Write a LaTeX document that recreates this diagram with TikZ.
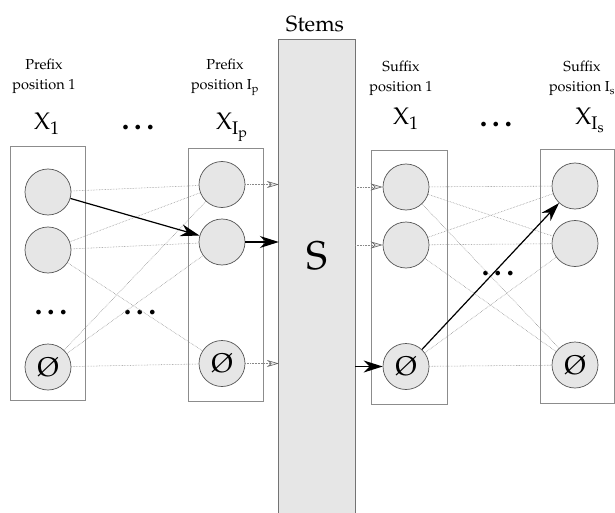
\documentclass[tikz,border=0pt]{standalone}
\usepackage[T1]{fontenc}
\usepackage{mathpazo}
\usetikzlibrary{arrows.meta}
\definecolor{cfill}{HTML}{E6E6E6}
\definecolor{cline}{HTML}{555555}
\definecolor{boxline}{HTML}{8C8C8C}
\definecolor{dotline}{HTML}{888888}
\begin{document}
\begin{tikzpicture}[x=1pt,y=-1pt,
  unit/.style={circle,draw=cline,fill=cfill,line width=0.7pt,minimum size=46pt,inner sep=0pt,font=\fontsize{27}{27}\selectfont},
  column/.style={draw=boxline,line width=0.8pt,minimum width=75pt,inner sep=0pt},
  link/.style={draw=dotline,densely dotted,line width=0.55pt},
  strong/.style={draw=black,line width=1.2pt,-{Stealth[length=19pt,width=12pt,inset=6pt]}},
  feed/.style={link,-{Stealth[color=black!60,fill=cfill,line width=0.6pt,length=12pt,width=7pt,inset=4pt]}},
  lab/.style={align=center,font=\fontsize{14.5}{20}\selectfont,anchor=base},
  varlab/.style={font=\fontsize{24}{24}\selectfont,anchor=base,inner sep=0pt},
  dotlab/.style={font=\fontsize{30}{30}\selectfont\bfseries,anchor=base,inner sep=0pt}
]
\useasboundingbox (0,0) rectangle (615,513);

% columns
\node[column,minimum height=254pt] (box1) at (47.5,273) {};
\node[column,minimum height=253pt] (box2) at (225.5,274.5) {};
\node[column,minimum width=76pt,minimum height=254pt] (box3) at (409,277) {};
\node[column,minimum width=74pt,minimum height=254pt] (box4) at (577,276) {};

% stems
\node[fill=cfill,minimum width=76pt,minimum height=473pt,inner sep=0pt] (stems) at (317,276.5) {};
\draw[draw=black!55,line width=0.8pt] (stems.south west) -- (stems.north west) -- (stems.north east) -- (stems.south east);
\node[font=\fontsize{22}{22}\selectfont,anchor=base] (stemslab) at (315,32) {Stems};
\node[font=\fontsize{40}{40}\selectfont] (S) at (317,256) {S};

% labels
\node[lab] (l1) at (44,90) {Prefix\\position 1};
\node[lab] (l2) at (225,90) {Prefix\\position I$_\mathrm{p}$};
\node[lab] (l3) at (401,92) {Suffix\\position 1};
\node[lab] (l4) at (582,92) {Suffix\\position I$_\mathrm{s}$};
\node[varlab] (v1) at (47,130) {X$_1$};
\node[varlab] (v2) at (232,130) {X$_{\mathrm{I}_\mathrm{p}}$};
\node[varlab] (v3) at (406,125) {X$_1$};
\node[varlab] (v4) at (590,125) {X$_{\mathrm{I}_\mathrm{s}}$};
\node[dotlab] (d0a) at (138,130) {.\kern5pt.\kern5pt.};
\node[dotlab] (d0b) at (496,127) {.\kern5pt.\kern5pt.};
\node[dotlab] (d1) at (51,314) {.\kern5pt.\kern5pt.};
\node[dotlab] (d2) at (140,314) {.\kern5pt.\kern5pt.};
\node[dotlab] (d3) at (498,275) {.\kern5pt.\kern5pt.};

% units
\node[unit] (a1) at (48,192) {};
\node[unit] (a2) at (48,250) {};
\node[unit] (aO) at (48,367) {\O};
\node[unit] (b1) at (222,184.5) {};
\node[unit] (b2) at (222,242) {};
\node[unit] (bO) at (222,363.5) {\O};
\node[unit] (c1) at (406,187) {};
\node[unit] (c2) at (406,245) {};
\node[unit] (cO) at (406,366.5) {\O};
\node[unit] (e1) at (575,186) {};
\node[unit] (e2) at (575,243.5) {};
\node[unit] (eO) at (575,365) {\O};

% prefix links
\draw[link] (a1) -- (b1);
\draw[link] (a2) -- (b1);
\draw[link] (a2) -- (b2);
\draw[link] (a2) -- (bO);
\draw[link] (aO) -- (b1);
\draw[link] (aO) -- (b2);
\draw[link] (aO) -- (bO);
\draw[strong] (a1) -- (b2);
\draw[feed] (b1) -- (b1 -| stems.west);
\draw[strong] (b2) -- (b2 -| stems.west);
\draw[feed] (bO) -- (bO -| stems.west);

% suffix links
\draw[feed] (c1 -| stems.east) -- (c1);
\draw[feed] (c2 -| stems.east) -- (c2);
\draw[strong] (cO -| stems.east) -- (cO);
\draw[link] (c1) -- (e1);
\draw[link] (c1) -- (e2);
\draw[link] (c1) -- (eO);
\draw[link] (c2) -- (e1);
\draw[link] (c2) -- (e2);
\draw[link] (c2) -- (eO);
\draw[link] (cO) -- (e2);
\draw[link] (cO) -- (eO);
\draw[strong] (cO) -- (e1);
\end{tikzpicture}
\end{document}
